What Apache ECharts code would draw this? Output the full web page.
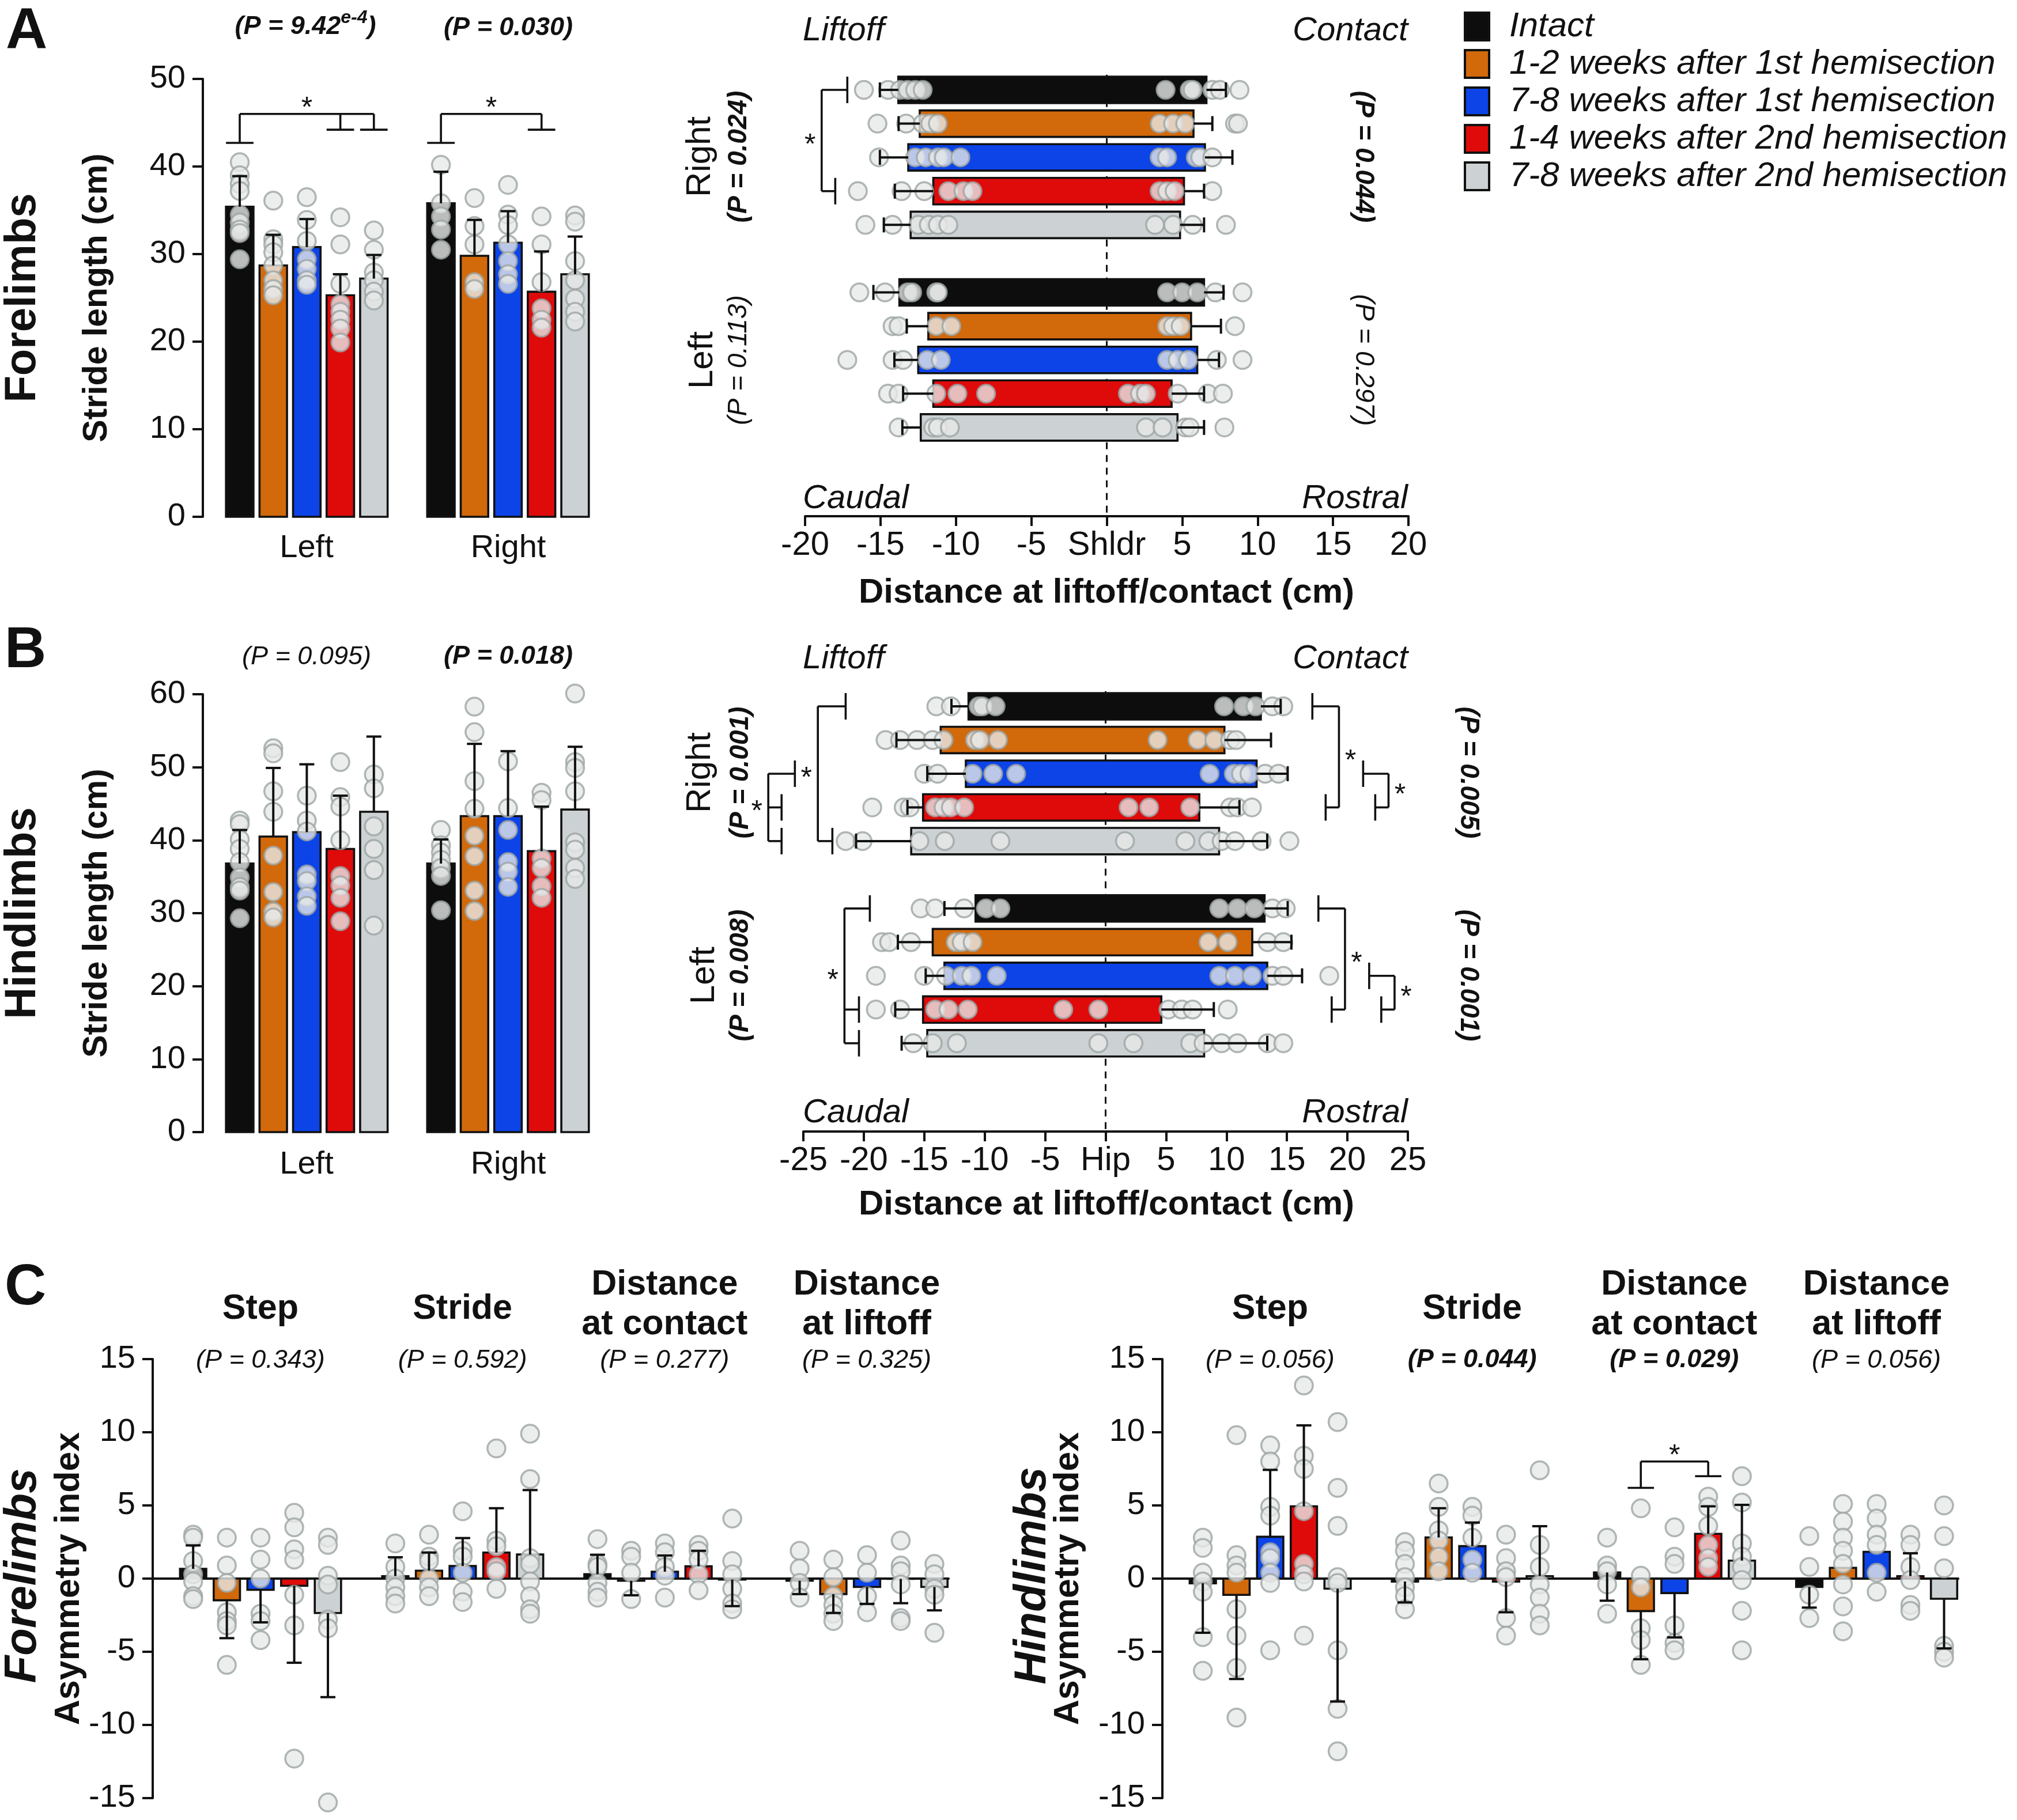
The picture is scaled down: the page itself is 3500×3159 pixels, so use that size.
<!DOCTYPE html>
<html>
<head>
<meta charset="utf-8">
<title>Stride length, limb position and asymmetry after hemisections</title>
<script src="https://cdn.jsdelivr.net/npm/echarts@6/dist/echarts.min.js"></script>
<style>
html, body { margin: 0; padding: 0; background: #fff; }
#main { width: 3500px; height: 3159px; }
</style>
</head>
<body>
<div id="main"></div>
<script>
var groups = ['Intact', '1-2 weeks after 1st hemisection', '7-8 weeks after 1st hemisection', '1-4 weeks after 2nd hemisection', '7-8 weeks after 2nd hemisection'];
var colors = ['#0d0d0d', '#d2690b', '#0c44e8', '#df0b0b', '#ccd1d3'];
var sides = ['Left', 'Right'];   // stride panels, left to right
var limbs = ['Right', 'Left'];   // distance panels, top to bottom
var metrics = ['Step', 'Stride', 'Distance\nat contact', 'Distance\nat liftoff'];

// A: forelimb stride length (cm) [side][group]
var foreStrideMean = [[35.4, 28.7, 30.8, 25.3, 27.2], [35.8, 29.8, 31.3, 25.7, 27.7]];
var foreStrideSd = [[3.5, 3.5, 3.2, 2.4, 2.7], [3.6, 4.1, 3.6, 4.6, 4.3]];
var foreStridePts = [
  [[40.5, 39.0, 38.0, 37.2, 34.5, 33.6, 32.8, 32.4, 29.4], [36.1, 31.7, 31.1, 30.2, 28.7, 27.0, 26.0, 25.3], [36.5, 33.9, 31.5, 29.4, 28.3, 27.0, 26.5], [34.2, 31.1, 26.6, 24.3, 23.4, 22.5, 21.5, 19.9], [32.7, 30.5, 27.9, 27.0, 25.7, 24.7]],
  [[40.2, 35.8, 34.3, 32.8, 30.5], [36.4, 33.2, 31.1, 26.8, 26.0], [37.9, 34.5, 33.3, 31.1, 29.2, 27.7, 26.6], [34.3, 31.1, 26.8, 23.8, 22.5, 21.6], [34.4, 33.7, 29.2, 27.0, 24.9, 23.4, 22.3]]
];

// A: forelimb distance at liftoff / contact (cm) [limb][group]
var foreLift = [[-13.82, -12.40, -13.16, -11.50, -13.00], [-13.75, -11.83, -12.50, -11.50, -12.33]];
var foreLiftSd = [[1.22, 1.40, 1.88, 2.55, 1.78], [1.72, 1.43, 1.58, 2.00, 1.22]];
var foreContact = [[6.61, 5.75, 6.51, 5.12, 4.86], [6.45, 5.59, 6.00, 4.30, 4.69]];
var foreContactSd = [[1.29, 1.25, 1.82, 1.33, 1.59], [1.29, 1.98, 1.44, 2.15, 1.76]];
var foreLiftPts = [
  [[-16.1, -14.5, -13.7, -13.2, -12.7, -12.2], [-15.2, -13.3, -12.2, -11.7, -11.2], [-15.1, -12.7, -12.0, -11.2, -10.8, -9.7], [-16.5, -13.6, -12.1, -10.5, -9.5, -8.9], [-16.0, -14.2, -12.5, -11.8, -11.2, -10.5]],
  [[-16.4, -14.7, -13.2, -12.9, -11.3, -11.2], [-14.2, -13.8, -11.3, -10.3], [-17.2, -14.2, -13.5, -11.9, -11.0], [-14.5, -13.8, -11.3, -9.9, -8.0], [-13.8, -11.5, -11.2, -10.4]]
];
var foreContactPts = [
  [[3.9, 5.5, 5.7, 7.0, 7.5, 8.8], [3.5, 4.4, 5.2, 8.5, 8.7], [3.5, 4.0, 5.9, 6.2, 7.0], [3.5, 4.0, 4.5, 7.0], [3.2, 4.4, 5.7, 7.9]],
  [[4.0, 5.0, 6.0, 7.2, 9.0], [4.0, 4.4, 4.9, 8.5], [4.0, 4.7, 5.4, 7.3, 9.0], [1.4, 2.2, 2.6, 4.7, 6.7, 7.7], [2.6, 3.7, 5.2, 5.5, 7.8]]
];

// B: hindlimb stride length (cm) [side][group]
var hindStrideMean = [[36.8, 40.5, 41.1, 38.8, 43.9], [36.8, 43.3, 43.3, 38.5, 44.2]];
var hindStrideSd = [[4.6, 9.4, 9.3, 7.3, 10.3], [3.3, 9.9, 8.9, 6.1, 8.6]];
var hindStridePts = [
  [[42.7, 42.2, 40.1, 38.8, 37.0, 34.9, 33.6, 33.1, 29.3], [52.6, 51.9, 46.7, 43.9, 37.9, 32.9, 30.2, 29.4], [46.1, 42.7, 41.2, 35.3, 34.4, 32.3, 31.0], [50.7, 45.9, 44.6, 40.0, 35.1, 33.8, 32.1, 28.9], [49.0, 47.1, 41.9, 38.8, 35.9, 28.3]],
  [[41.4, 39.3, 38.3, 37.3, 36.2, 35.1, 30.4], [58.3, 54.8, 48.1, 44.3, 40.6, 37.8, 33.1, 30.3], [50.8, 44.4, 41.4, 37.0, 35.7, 33.6], [46.5, 45.5, 37.5, 36.2, 33.7, 32.1], [60.1, 50.7, 49.9, 46.7, 39.7, 38.7, 36.2, 34.7]]
];

// B: hindlimb distance at liftoff / contact (cm) [limb][group]
var hindLift = [[-11.34, -13.64, -11.56, -15.10, -16.08], [-10.76, -14.30, -13.33, -15.10, -14.75]];
var hindLiftSd = [[1.41, 3.66, 3.19, 1.29, 4.56], [2.57, 2.88, 1.55, 2.30, 2.12]];
var hindContact = [[12.84, 9.83, 12.49, 7.75, 9.39], [13.15, 12.13, 13.37, 4.61, 8.15]];
var hindContactSd = [[1.64, 3.85, 2.57, 3.32, 3.98], [1.91, 3.24, 2.88, 4.34, 5.22]];
var hindLiftPts = [
  [[-14.0, -12.8, -10.5, -10.2, -9.1], [-18.2, -17.0, -15.6, -14.3, -13.4, -10.8, -10.4, -8.9], [-15.0, -13.9, -11.0, -9.3, -7.4], [-19.3, -16.7, -16.2, -14.1, -13.4, -12.8, -11.7], [-21.5, -20.1, -15.4, -13.3, -8.7]],
  [[-15.3, -14.1, -11.7, -9.9, -8.7], [-18.5, -17.9, -16.1, -12.4, -11.9, -11.0], [-19.0, -15.0, -13.2, -11.9, -11.1, -9.0], [-19.0, -17.0, -14.1, -13.0, -11.4], [-15.9, -14.3, -12.3]]
];
var hindContactPts = [
  [[9.8, 11.4, 12.4, 13.8, 14.7], [4.3, 7.6, 9.0, 10.3, 10.8], [8.6, 10.6, 11.2, 11.9, 13.2, 14.3], [1.9, 3.6, 7.0, 10.3, 10.9, 12.1], [1.6, 6.6, 8.5, 9.6, 10.7, 12.9, 15.2]],
  [[9.4, 10.9, 12.3, 13.8, 14.9], [8.5, 10.1, 13.4, 14.7], [9.4, 10.7, 12.1, 13.8, 14.7, 18.5], [-3.5, -0.6, 5.2, 6.3, 7.2, 10.1], [-0.6, 2.3, 7.0, 8.1, 9.6, 10.9, 13.4, 14.7]]
];

// C: asymmetry index [metric][group]; err is the signed length of the error bar
var foreAsymMean = [[0.67, -1.48, -0.77, -0.49, -2.35], [0.17, 0.54, 0.86, 1.78, 1.65], [0.30, -0.15, 0.47, 0.84, -0.07], [-0.15, -1.06, -0.57, -0.02, -0.57]];
var foreAsymErr = [[1.60, -2.59, -2.22, -5.26, -5.75], [1.29, 1.24, 1.91, 3.03, 4.40], [1.33, -0.99, 1.11, 1.06, -1.81], [-0.91, -1.29, -1.16, -1.66, -1.60]];
var foreAsymPts = [
  [[3.0, 2.8, 1.2, 0.3, -0.2, -1.2, -1.4], [2.8, 0.9, -0.3, -2.3, -2.9, -3.2, -5.9], [2.8, 1.3, 0.0, -2.4, -2.9, -4.2], [4.5, 3.5, 2.0, 1.3, -1.1, -3.2, -12.3], [2.8, 2.3, 0.2, -0.4, -2.8, -3.4, -15.3]],
  [[2.4, 0.8, 0.0, -0.6, -1.2, -1.7], [3.0, 1.5, 1.2, 0.0, -0.6, -1.2], [4.6, 1.9, 1.5, 0.4, -0.9, -1.6], [8.9, 2.6, 2.2, 0.8, 0.5, -0.7], [9.9, 6.8, 1.4, 1.0, -0.2, -1.2, -2.1, -2.4]],
  [[2.7, 1.0, 0.8, -0.3, -0.9, -1.3], [1.9, 1.5, 0.4, -1.4], [2.4, 1.8, 0.8, 0.2, -1.3], [2.3, 1.9, 1.3, 0.3, -0.8], [4.1, 1.2, 0.3, -0.7, -1.7, -2.1]],
  [[1.9, 0.7, -0.3, -1.3], [1.3, 0.1, -1.2, -1.8, -2.4, -2.9], [1.6, 0.4, -1.2, -2.3], [2.6, 0.9, 0.5, -0.4, -2.7, -2.9], [1.0, 0.3, -0.7, -1.1, -3.7]]
];
var hindAsymMean = [[-0.32, -1.11, 2.86, 4.94, -0.69], [-0.20, 2.81, 2.22, -0.20, 0.17], [0.42, -2.22, -0.99, 3.06, 1.23], [-0.57, 0.74, 1.83, 0.17, -1.38]];
var hindAsymErr = [[-3.38, -5.75, 4.57, 5.53, -7.71], [-1.43, 2.00, 1.61, -2.10, 3.41], [-1.93, -3.29, -3.03, 1.88, 3.81], [-1.41, 0, 0, 1.56, -3.39]];
var hindAsymPts = [
  [[2.8, 2.1, 0.4, -0.2, -0.9, -4.0, -6.3], [9.8, 1.6, 0.9, 0.4, -2.1, -3.9, -6.1, -9.5], [9.1, 8.0, 4.9, 4.3, 1.8, 1.4, 0.4, -0.3, -4.9], [13.2, 8.4, 7.5, 4.6, 1.0, 0.3, -0.2, -3.9], [10.7, 6.2, 3.6, 0.1, -0.3, -4.9, -8.9, -11.8]],
  [[2.5, 1.9, 1.0, 0.1, -0.6, -1.2, -2.1], [6.5, 4.9, 3.3, 2.6, 1.5, 0.5], [4.9, 4.3, 2.8, 1.3, 0.4], [3.0, 1.4, 0.5, 0.1, -2.7, -3.9], [7.4, 2.3, 0.8, -0.4, -1.3, -2.4, -3.2]],
  [[2.8, 0.9, 0.5, -0.4, -2.4], [4.8, 0.2, -0.6, -3.4, -4.2, -5.9], [3.5, 1.5, 1.0, -3.2, -4.4, -4.9], [5.6, 4.9, 3.6, 2.3, 1.4, 0.8], [7.0, 5.2, 2.4, 1.5, 0.8, -0.1, -2.2, -4.9]],
  [[2.9, 0.8, -1.1, -2.7], [5.1, 3.9, 2.8, 1.9, 1.0, -0.4, -1.9, -3.6], [5.1, 4.1, 3.0, 2.3, 0.4, -0.9], [3.0, 2.3, 0.8, -0.1, -1.8, -2.2], [5.0, 2.9, 0.7, -4.6, -5.0, -5.4]]
];

// significance brackets
var foreStrideSig = [
  {side: 0, ref: 0, vs: [3, 4], refY: 42.7, vsY: 44.2, top: 46},
  {side: 1, ref: 0, vs: [3], refY: 42.7, vsY: 44.2, top: 46}
];
var hindAsymSig = [{side: 2, ref: 1, vs: [3], refY: 6.2, vsY: 7.0, top: 8.0}];
var foreDistSig = [{limb: 0, x: -18.9, caps: [[0, -17.2], [3, -18.0]], dir: -1}];
var hindDistSig = [
  {limb: 0, x: -23.8, caps: [[0, -21.5], [4, -22.6]], dir: -1},
  {limb: 0, x: -27.9, caps: [[2, -25.7], [3, -26.8], [4, -26.8]], dir: -1},
  {limb: 1, x: -21.6, caps: [[0, -19.5], [3, -20.4], [4, -20.4]], dir: -1},
  {limb: 0, x: 19.3, caps: [[0, 17.1], [3, 18.2]], dir: 1},
  {limb: 0, x: 23.4, caps: [[2, 21.3], [3, 22.3]], dir: 1},
  {limb: 1, x: 19.8, caps: [[0, 17.6], [3, 18.7]], dir: 1},
  {limb: 1, x: 23.9, caps: [[2, 21.8], [3, 22.8]], dir: 1}
];

var FONT = '"Liberation Sans", Arial, Helvetica, sans-serif';
var INK = '#111111';
var DOT = {color: '#e7e9e9', borderColor: '#9ca5a4', borderWidth: 3.5};

function seg(x1, y1, x2, y2, w) {
  return {type: 'line', shape: {x1: x1, y1: y1, x2: x2, y2: y2}, style: {stroke: INK, lineWidth: w || 3.6}};
}
function starText(x, y) {
  return {type: 'text', x: x, y: y + 9, style: {text: '*', fill: INK, fontFamily: FONT, fontSize: 50,
    align: 'center', verticalAlign: 'middle', textAlign: 'center', textVerticalAlign: 'middle'}};
}

function vBar(width) {
  return function (params, api) {
    var x = api.value(0), v = api.value(1);
    var a = api.coord([x, 0]), b = api.coord([x, v]);
    var w = api.size([width, 0])[0];
    return {type: 'rect', shape: {x: a[0] - w / 2, y: Math.min(a[1], b[1]), width: w, height: Math.abs(a[1] - b[1])},
      style: {fill: api.visual('color'), stroke: INK, lineWidth: 3.6}};
  };
}
function vErr(cap) {
  return function (params, api) {
    var x = api.value(0);
    var a = api.coord([x, api.value(1)]), b = api.coord([x, api.value(2)]);
    return {type: 'group', children: [seg(a[0], a[1], b[0], b[1], 4), seg(b[0] - cap / 2, b[1], b[0] + cap / 2, b[1], 4)]};
  };
}
function hBar(height) {
  return function (params, api) {
    var s = api.value(0);
    var a = api.coord([api.value(1), s]), b = api.coord([api.value(2), s]);
    var h = Math.abs(api.size([0, height])[1]);
    return {type: 'rect', shape: {x: a[0], y: a[1] - h / 2, width: b[0] - a[0], height: h},
      style: {fill: api.visual('color'), stroke: INK, lineWidth: 3.6}};
  };
}
function hErr(cap) {
  return function (params, api) {
    var s = api.value(0);
    var a = api.coord([api.value(1), s]), b = api.coord([api.value(2), s]);
    return {type: 'group', children: [seg(a[0], a[1], b[0], b[1], 4), seg(b[0], b[1] - cap / 2, b[0], b[1] + cap / 2, 4)]};
  };
}

var series = [];

function stridePanel(gi, means, sds, pts, named, barW) {
  groups.forEach(function (name, g) {
    var bar = {type: 'custom', xAxisIndex: gi, yAxisIndex: gi, z: 2, silent: true,
      itemStyle: {color: colors[g]}, renderItem: vBar(barW),
      data: means.map(function (row, k) { return [k * 6 + g, row[g]]; })};
    if (named) bar.name = name;
    series.push(bar);
    var dots = [];
    pts.forEach(function (row, k) { row[g].forEach(function (v) { dots.push([k * 6 + g, v]); }); });
    series.push({type: 'scatter', xAxisIndex: gi, yAxisIndex: gi, z: 3, silent: true, clip: false,
      symbolSize: 31, itemStyle: DOT, data: dots});
    var errs = [];
    means.forEach(function (row, k) {
      var e = sds[k][g];
      if (e !== 0) errs.push([k * 6 + g, row[g], row[g] + e]);
    });
    series.push({type: 'custom', xAxisIndex: gi, yAxisIndex: gi, z: 4, silent: true, renderItem: vErr(26), data: errs});
  });
}

function distPanel(gi, lift, liftSd, cont, contSd, liftPts, contPts) {
  series.push({type: 'custom', xAxisIndex: gi, yAxisIndex: gi, z: 1, silent: true, data: [[0, 0]],
    renderItem: function (params, api) {
      var a = api.coord([0, -0.45]);
      var bottom = params.coordSys.y + params.coordSys.height;
      return {type: 'line', shape: {x1: a[0], y1: a[1], x2: a[0], y2: bottom}, style: {stroke: INK, lineWidth: 3, lineDash: [12, 10]}};
    }});
  groups.forEach(function (name, g) {
    series.push({type: 'custom', xAxisIndex: gi, yAxisIndex: gi, z: 2, silent: true, itemStyle: {color: colors[g]},
      renderItem: hBar(0.785),
      data: limbs.map(function (l, k) { return [k * 6 + g, lift[k][g], cont[k][g]]; })});
    var dots = [];
    limbs.forEach(function (l, k) {
      liftPts[k][g].forEach(function (v) { dots.push([v, k * 6 + g]); });
      contPts[k][g].forEach(function (v) { dots.push([v, k * 6 + g]); });
    });
    series.push({type: 'scatter', xAxisIndex: gi, yAxisIndex: gi, z: 3, silent: true, clip: false,
      symbolSize: 31, itemStyle: DOT, data: dots});
    var errs = [];
    limbs.forEach(function (l, k) {
      errs.push([k * 6 + g, lift[k][g], lift[k][g] - liftSd[k][g]]);
      errs.push([k * 6 + g, cont[k][g], cont[k][g] + contSd[k][g]]);
    });
    series.push({type: 'custom', xAxisIndex: gi, yAxisIndex: gi, z: 4, silent: true, renderItem: hErr(26), data: errs});
  });
}

function vBrackets(gi, specs, barW) {
  series.push({type: 'custom', xAxisIndex: gi, yAxisIndex: gi, z: 5, silent: true, data: [[0, 0]],
    renderItem: function (params, api) {
      var w = api.size([barW, 0])[0];
      var kids = [];
      specs.forEach(function (sp) {
        var x0 = sp.side * 6 + sp.ref;
        var xs = sp.vs.map(function (g) { return sp.side * 6 + g; });
        var p = api.coord([x0, sp.refY]), t = api.coord([x0, sp.top]);
        var tEnd = api.coord([xs[xs.length - 1], sp.top]);
        kids.push(seg(p[0] - w / 2, p[1], p[0] + w / 2, p[1]));
        kids.push(seg(p[0], p[1], t[0], t[1]));
        kids.push(seg(t[0], t[1], tEnd[0], tEnd[1]));
        xs.forEach(function (x) {
          var q = api.coord([x, sp.vsY]), u = api.coord([x, sp.top]);
          kids.push(seg(u[0], u[1], q[0], q[1]));
          kids.push(seg(q[0] - w / 2, q[1], q[0] + w / 2, q[1]));
        });
        var s = api.coord([(x0 + xs[xs.length - 1]) / 2, sp.top]);
        kids.push(starText(s[0], s[1] - 18));
      });
      return {type: 'group', children: kids};
    }});
}

function hBrackets(gi, specs, barH) {
  series.push({type: 'custom', xAxisIndex: gi, yAxisIndex: gi, z: 5, silent: true, clip: false, data: [[0, 0]],
    renderItem: function (params, api) {
      var h = Math.abs(api.size([0, barH])[1]);
      var kids = [];
      specs.forEach(function (sp) {
        var slots = sp.caps.map(function (c) { return sp.limb * 6 + c[0]; });
        var lo = Math.min.apply(null, slots), hi = Math.max.apply(null, slots);
        var a = api.coord([sp.x, lo]), b = api.coord([sp.x, hi]);
        kids.push(seg(a[0], a[1], b[0], b[1]));
        sp.caps.forEach(function (c, i) {
          var p = api.coord([sp.x, slots[i]]), q = api.coord([c[1], slots[i]]);
          kids.push(seg(p[0], p[1], q[0], q[1]));
          kids.push(seg(q[0], q[1] - h / 2, q[0], q[1] + h / 2));
        });
        var m = api.coord([sp.x, (lo + hi) / 2]);
        kids.push(starText(m[0] + sp.dir * 20, m[1]));
      });
      return {type: 'group', children: kids};
    }});
}

stridePanel(0, foreStrideMean, foreStrideSd, foreStridePts, true, 0.82);
vBrackets(0, foreStrideSig, 0.82);
distPanel(1, foreLift, foreLiftSd, foreContact, foreContactSd, foreLiftPts, foreContactPts);
hBrackets(1, foreDistSig, 0.785);
stridePanel(2, hindStrideMean, hindStrideSd, hindStridePts, false, 0.82);
distPanel(3, hindLift, hindLiftSd, hindContact, hindContactSd, hindLiftPts, hindContactPts);
hBrackets(3, hindDistSig, 0.785);
stridePanel(4, foreAsymMean, foreAsymErr, foreAsymPts, false, 0.78);
stridePanel(5, hindAsymMean, hindAsymErr, hindAsymPts, false, 0.78);
vBrackets(5, hindAsymSig, 0.78);

// axes
var axisLineStyle = {color: INK, width: 4};
function valueY(gi, min, max, interval) {
  return {type: 'value', gridIndex: gi, min: min, max: max, interval: interval,
    axisLine: {show: true, onZero: false, lineStyle: axisLineStyle},
    axisTick: {show: true, length: 18, lineStyle: axisLineStyle},
    axisLabel: {fontFamily: FONT, fontSize: 56, color: INK, margin: 30},
    splitLine: {show: false}};
}
function hiddenX(gi, min, max) {
  return {type: 'value', gridIndex: gi, min: min, max: max, show: false, splitLine: {show: false}};
}
function zeroX(gi, min, max) {
  return {type: 'value', gridIndex: gi, min: min, max: max,
    axisLine: {show: true, onZero: true, lineStyle: axisLineStyle},
    axisTick: {show: false}, axisLabel: {show: false}, splitLine: {show: false}};
}
function distX(gi, lim, zeroName) {
  return {type: 'value', gridIndex: gi, min: -lim, max: lim, interval: 5,
    axisLine: {show: true, onZero: false, lineStyle: axisLineStyle},
    axisTick: {show: true, length: 17, lineStyle: axisLineStyle},
    axisLabel: {fontFamily: FONT, fontSize: 58, color: INK, margin: 22,
      formatter: function (v) { return v === 0 ? zeroName : String(v); }},
    splitLine: {show: false}};
}
function slotY(gi, maxSlot) {
  return {type: 'value', gridIndex: gi, min: -1, max: maxSlot, inverse: true, show: false,
    axisLine: {onZero: false}, splitLine: {show: false}};
}

// text
function T(text, x, y, size, o) {
  o = o || {};
  var st = {text: text, fill: INK, fontFamily: FONT, fontSize: size,
    fontWeight: o.bold ? 'bold' : 'normal', fontStyle: o.italic ? 'italic' : 'normal',
    align: o.align || 'center', verticalAlign: 'middle', textAlign: o.align || 'center', textVerticalAlign: 'middle'};
  if (o.lineHeight) st.lineHeight = o.lineHeight;
  if (o.rich) st.rich = o.rich;
  return {type: 'text', x: x, y: y, rotation: o.rot || 0, z: 50, silent: true, style: st};
}
var UP = Math.PI / 2, DOWN = -Math.PI / 2;
var graphics = [
  T('A', 46, 56, 100, {bold: true}),
  T('Forelimbs', 40, 517, 76, {bold: true, rot: UP}),
  T('Stride length (cm)', 169, 517, 59, {bold: true, rot: UP}),
  T('(P = 9.42{sup|e-4})', 530, 47, 45, {bold: true, italic: true, lineHeight: 64,
    rich: {sup: {fontFamily: FONT, fontSize: 32, fontWeight: 'bold', fontStyle: 'italic', lineHeight: 32, verticalAlign: 'top', fill: INK}}}),
  T('(P = 0.030)', 882, 49, 45, {bold: true, italic: true}),
  T('Left', 532, 952, 56), T('Right', 882, 952, 56),
  T('Liftoff', 1393, 54, 58, {italic: true, align: 'left'}),
  T('Contact', 2443, 54, 58, {italic: true, align: 'right'}),
  T('Caudal', 1393, 866, 58, {italic: true, align: 'left'}),
  T('Rostral', 2443, 866, 58, {italic: true, align: 'right'}),
  T('Right', 1215, 272, 60, {rot: UP}),
  T('(P = 0.024)', 1282, 272, 46, {bold: true, italic: true, rot: UP}),
  T('Left', 1219, 625, 60, {rot: UP}),
  T('(P = 0.113)', 1282, 625, 46, {italic: true, rot: UP}),
  T('(P = 0.044)', 2366, 272, 46, {bold: true, italic: true, rot: DOWN}),
  T('(P = 0.297)', 2366, 625, 46, {italic: true, rot: DOWN}),
  T('Distance at liftoff/contact (cm)', 1920, 1029, 60, {bold: true}),

  T('B', 44, 1130, 100, {bold: true}),
  T('Hindlimbs', 40, 1585, 76, {bold: true, rot: UP}),
  T('Stride length (cm)', 169, 1585, 59, {bold: true, rot: UP}),
  T('(P = 0.095)', 532, 1140, 45, {italic: true}),
  T('(P = 0.018)', 882, 1140, 45, {bold: true, italic: true}),
  T('Left', 532, 2022, 56), T('Right', 882, 2022, 56),
  T('Liftoff', 1393, 1144, 58, {italic: true, align: 'left'}),
  T('Contact', 2443, 1144, 58, {italic: true, align: 'right'}),
  T('Caudal', 1393, 1932, 58, {italic: true, align: 'left'}),
  T('Rostral', 2443, 1932, 58, {italic: true, align: 'right'}),
  T('Right', 1215, 1341, 60, {rot: UP}),
  T('(P = 0.001)', 1285, 1341, 46, {bold: true, italic: true, rot: UP}),
  T('Left', 1222, 1693, 60, {rot: UP}),
  T('(P = 0.008)', 1285, 1693, 46, {bold: true, italic: true, rot: UP}),
  T('(P = 0.005)', 2548, 1341, 46, {bold: true, italic: true, rot: DOWN}),
  T('(P = 0.001)', 2548, 1693, 46, {bold: true, italic: true, rot: DOWN}),
  T('Distance at liftoff/contact (cm)', 1920, 2091, 60, {bold: true}),

  T('C', 44, 2236, 100, {bold: true}),
  T('Forelimbs', 40, 2735, 78, {bold: true, italic: true, rot: UP}),
  T('Asymmetry index', 120, 2740, 61, {bold: true, rot: UP}),
  T('Hindlimbs', 1792, 2735, 78, {bold: true, italic: true, rot: UP}),
  T('Asymmetry index', 1854, 2740, 61, {bold: true, rot: UP})
];
var foreP = ['(P = 0.343)', '(P = 0.592)', '(P = 0.277)', '(P = 0.325)'];
var hindP = ['(P = 0.056)', '(P = 0.044)', '(P = 0.029)', '(P = 0.056)'];
var hindPBold = [false, true, true, false];
metrics.forEach(function (m, k) {
  var xl = 335 + (k * 6 + 2) * 58.45, xr = 2087 + (k * 6 + 2) * 58.45;
  var ty = m.indexOf('\n') >= 0 ? 2265 : 2272;
  graphics.push(T(m, xl, ty, 61, {bold: true, lineHeight: 69}));
  graphics.push(T(m, xr, ty, 61, {bold: true, lineHeight: 69}));
  graphics.push(T(foreP[k], xl, 2361, 45, {italic: true}));
  graphics.push(T(hindP[k], xr, 2361, 45, {italic: true, bold: hindPBold[k]}));
});

var chart = echarts.init(document.getElementById('main'), null, {renderer: 'canvas'});
chart.setOption({
  backgroundColor: '#ffffff',
  animation: false,
  textStyle: {fontFamily: FONT},
  legend: {
    orient: 'vertical', left: 2540, top: 16, padding: 0, itemWidth: 42, itemHeight: 48, itemGap: 5, selectedMode: false,
    textStyle: {fontFamily: FONT, fontSize: 60, fontStyle: 'italic', color: INK, lineHeight: 48, padding: [0, 0, 0, 30]},
    data: groups.map(function (g, i) {
      return {name: g, icon: 'rect', itemStyle: {color: colors[i], borderColor: INK, borderWidth: 4}};
    })
  },
  grid: [
    {left: 352, top: 137, width: 675, height: 760},
    {left: 1397, top: 97.4, width: 1047, height: 798.6},
    {left: 352, top: 1205, width: 675, height: 760},
    {left: 1394, top: 1167.5, width: 1049, height: 796.5},
    {left: 265, top: 2359, width: 1381, height: 762},
    {left: 2017, top: 2359, width: 1381, height: 762}
  ],
  xAxis: [
    hiddenX(0, -1.1, 10.5),
    distX(1, 20, 'Shldr'),
    hiddenX(2, -1.1, 10.5),
    distX(3, 25, 'Hip'),
    zeroX(4, -1.2, 22.42),
    zeroX(5, -1.2, 22.42)
  ],
  yAxis: [
    valueY(0, 0, 50, 10),
    slotY(1, 12.63),
    valueY(2, 0, 60, 10),
    slotY(3, 12.62),
    valueY(4, -15, 15, 5),
    valueY(5, -15, 15, 5)
  ],
  graphic: graphics,
  series: series
});
</script>
</body>
</html>
